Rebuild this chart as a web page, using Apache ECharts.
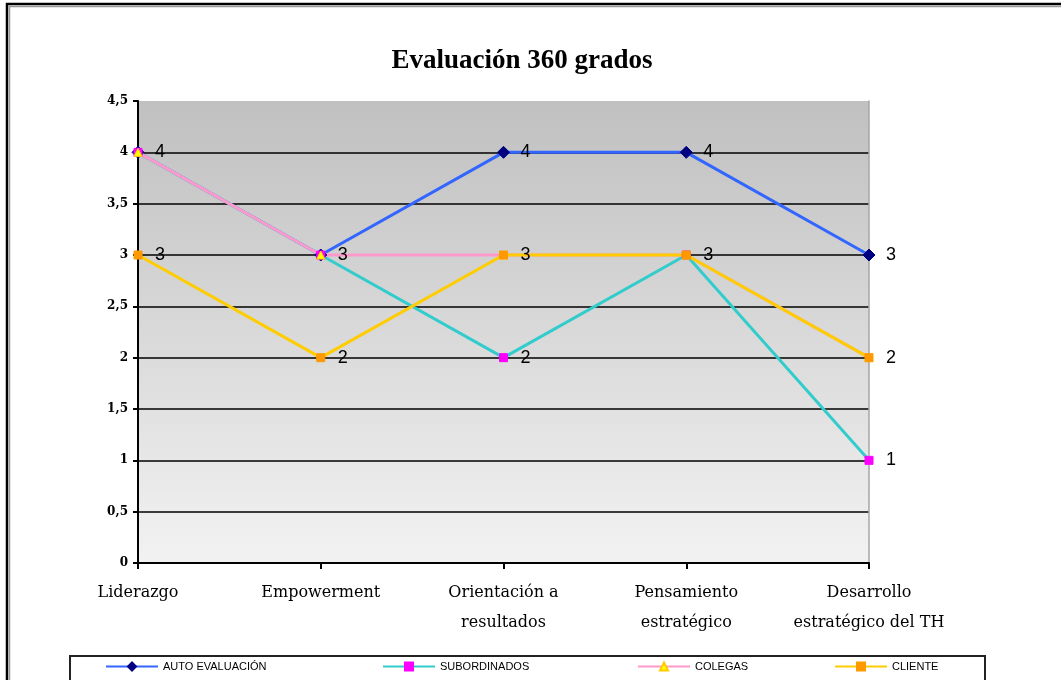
<!DOCTYPE html>
<html>
<head>
<meta charset="utf-8">
<script src="https://cdn.jsdelivr.net/npm/echarts@6/dist/echarts.min.js"></script>
<style>
  html, body { margin: 0; padding: 0; background: #fff; }
  #chart { width: 1061px; height: 680px; }
</style>
</head>
<body>
<div id="chart"></div>
<script>
// Competencias evaluadas
const categories = [
  'Liderazgo',
  'Empowerment',
  'Orientación a\nresultados',
  'Pensamiento\nestratégico',
  'Desarrollo\nestratégico del TH'
];

// Puntuaciones por tipo de evaluador
const autoEvaluacion = [4, 3, 4, 4, 3];
const subordinados   = [4, 3, 2, 3, 1];
const colegas        = [4, 3, 3, 3, 2];
const cliente        = [3, 2, 3, 3, 2];

const seriesNames = ['AUTO EVALUACIÓN', 'SUBORDINADOS', 'COLEGAS', 'CLIENTE'];

const chart = echarts.init(document.getElementById('chart'), null, { renderer: 'canvas' });

// value labels centred on the point, then shifted right by the label layout
const valueLabel = {
  show: true,
  position: 'inside',
  color: '#000',
  fontFamily: 'Liberation Sans, Arial, sans-serif',
  fontSize: 18
};

function lineSeries(name, data, lineColor, symbol, symbolSize, markerColor, markerBorder) {
  return {
    name: name,
    type: 'line',
    data: data,
    symbol: symbol,
    symbolSize: symbolSize,
    showAllSymbol: true,
    lineStyle: { color: lineColor, width: 3 },
    itemStyle: { color: markerColor, borderColor: markerBorder || markerColor, borderWidth: 1 },
    label: valueLabel,
    labelLayout: { dx: 22, hideOverlap: true },
    emphasis: { disabled: true },
    animation: false
  };
}

function legendAt(name, left) {
  return {
    data: [name],
    left: left,
    top: 661,
    padding: 0,
    itemWidth: 52,
    itemHeight: 10,
    textStyle: { fontFamily: 'Liberation Sans, Arial, sans-serif', fontSize: 11, color: '#000' },
    selectedMode: false
  };
}

// split lines at every half point except the top edge
const gridLineColors = ['#000', '#000', '#000', '#000', '#000', '#000', '#000', '#000', '#000', 'rgba(0,0,0,0)'];

chart.setOption({
  animation: false,
  backgroundColor: '#fff',
  title: {
    text: 'Evaluación 360 grados',
    left: 517,
    top: 43,
    textAlign: 'center',
    textStyle: {
      fontFamily: 'Liberation Serif, Times New Roman, serif',
      fontWeight: 'bold',
      fontSize: 27,
      color: '#000'
    }
  },
  legend: [
    legendAt(seriesNames[0], 105),
    legendAt(seriesNames[1], 382),
    legendAt(seriesNames[2], 637),
    legendAt(seriesNames[3], 834)
  ],
  graphic: [
    // outer frame
    { type: 'rect', shape: { x: 7, y: 4, width: 1100, height: 800 },
      style: { fill: 'none', stroke: '#000', lineWidth: 2.5 }, silent: true },
    { type: 'line', shape: { x1: 9, y1: 6.5, x2: 1061, y2: 6.5 },
      style: { stroke: '#999', lineWidth: 1.5 }, silent: true },
    { type: 'line', shape: { x1: 9.5, y1: 6, x2: 9.5, y2: 680 },
      style: { stroke: '#999', lineWidth: 1.5 }, silent: true },
    // legend box
    { type: 'rect', shape: { x: 70, y: 656, width: 915, height: 40 },
      style: { fill: 'none', stroke: '#222', lineWidth: 2 }, silent: true, z: -1 }
  ],
  grid: {
    left: 138,
    right: 192,
    top: 101,
    bottom: 117,
    show: true,
    borderWidth: 0,
    backgroundColor: {
      type: 'linear', x: 0, y: 0, x2: 0, y2: 1,
      colorStops: [
        { offset: 0, color: '#c0c0c0' },
        { offset: 1, color: '#f2f2f2' }
      ]
    }
  },
  xAxis: {
    type: 'category',
    data: categories,
    boundaryGap: false,
    axisLine: { show: true, lineStyle: { color: '#000', width: 2 } },
    axisTick: { show: true, alignWithLabel: true, length: 6, lineStyle: { color: '#000', width: 2 } },
    axisLabel: {
      margin: 15,
      interval: 0,
      color: '#000',
      fontFamily: 'DejaVu Serif, serif',
      fontSize: 16,
      lineHeight: 30
    },
    splitLine: { show: false }
  },
  yAxis: [
    {
      type: 'value',
      min: 0,
      max: 4.5,
      interval: 0.5,
      axisLine: { show: true, lineStyle: { color: '#000', width: 2 } },
      axisTick: { show: true, length: 5, lineStyle: { color: '#000', width: 2 } },
      axisLabel: {
        margin: 10,
        color: '#000',
        fontFamily: 'DejaVu Serif, serif',
        fontWeight: 'bold',
        fontSize: 12,
        formatter: v => String(v).replace('.', ',')
      },
      splitLine: { show: true, lineStyle: { color: gridLineColors, width: 1.5 } }
    },
    {
      type: 'value',
      position: 'right',
      min: 0,
      max: 4.5,
      interval: 0.5,
      axisLine: { show: true, lineStyle: { color: '#a6a6a6', width: 1.5 } },
      axisTick: { show: false },
      axisLabel: { show: false },
      splitLine: { show: false }
    }
  ],
  series: [
    lineSeries(seriesNames[0], autoEvaluacion, '#3366ff', 'diamond', 12, '#000080'),
    lineSeries(seriesNames[1], subordinados, '#33cccc', 'rect', 8, '#ff00ff'),
    lineSeries(seriesNames[2], colegas, '#ff99cc', 'triangle', 8, '#ffff00', '#ffcc00'),
    lineSeries(seriesNames[3], cliente, '#ffcc00', 'rect', 8, '#ff9900')
  ]
});
</script>
</body>
</html>
